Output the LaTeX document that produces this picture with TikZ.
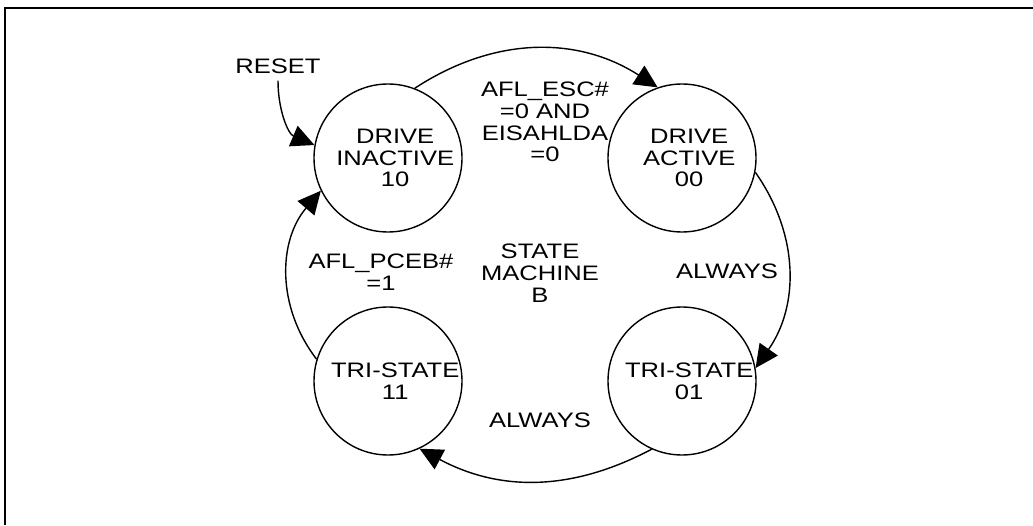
\documentclass[tikz,border=0pt]{standalone}
\usepackage{fontspec}
\newfontfamily\diafont{Liberation Sans}[FakeStretch=1.22]
\usepackage{tikz}
\usetikzlibrary{positioning, arrows.meta}

\begin{document}
\begin{tikzpicture}[
    font=\diafont\fontsize{14.9}{15.5}\selectfont,
    state/.style={circle, draw, line width=1pt, minimum size=3.7cm, inner sep=0pt,
        label={[align=center, xshift=0.18cm]center:#1}},
    lbl/.style={align=center, inner sep=1pt},
    trans/.style={line width=1pt, -{Triangle[length=0.575cm, width=0.55cm]}},
    on grid]
    \useasboundingbox (0,0) rectangle (25.825,13.125);

    % Frame
    \draw[line width=2pt] (0.125,0) -- (0.125,12.925) -- (25.825,12.925);

    % States
    \node (inact) [state={DRIVE\\INACTIVE\\10}] at (9.7,9.175) {};
    \node (act) [state={DRIVE\\ACTIVE\\00}, right=7.35cm of inact] {};
    \node (tri11) [state={TRI-STATE\\11}, below=5.575cm of inact] {};
    \node (tri01) [state={TRI-STATE\\01}, below=5.575cm of act] {};

    % Labels
    \node (reset) [lbl, inner sep=5pt] at (6.95,11.475) {RESET};
    \node (esc) [lbl] at (13.625,10.075) {AFL\_ESC\#\\=0 AND\\EISAHLDA\\=0};
    \node (sm) [lbl] at (13.5,6.3) {STATE\\MACHINE\\B};
    \node (pceb) [lbl] at (9.525,6.325) {AFL\_PCEB\#\\=1};
    \node (alw1) [lbl] at (18.175,6.35) {ALWAYS};
    \node (alw2) [lbl] at (13.5,2.625) {ALWAYS};

    % Transitions
    \draw[trans] (reset.south) to[out=-90, in=157] (inact.170);
    \draw[trans] (inact.69) to[bend left=33] (act.109);
    \draw[trans] (act.-11) to[bend left=35] (tri01.10);
    \draw[trans] (tri01.246) to[bend left=28] (tri11.-65);
    \draw[trans] (tri11.163) to[bend left=39] (inact.206);
\end{tikzpicture}
\end{document}
